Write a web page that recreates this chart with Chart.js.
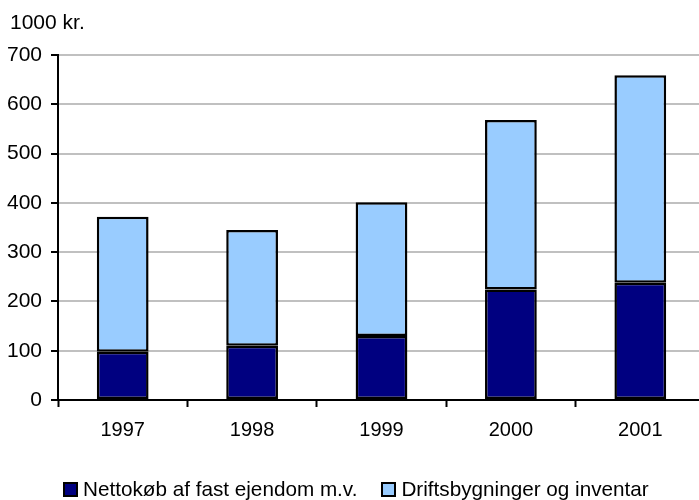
<!DOCTYPE html>
<html>
<head>
<meta charset="utf-8">
<script src="https://cdn.jsdelivr.net/npm/chart.js@4"></script>
<style>
  html, body { margin: 0; padding: 0; background: #fff; overflow: hidden; }
  #wrap { position: relative; width: 705px; height: 500px; }
  .txt { font-family: 'Liberation Sans', Arial, sans-serif; color: #000; white-space: nowrap; }
  #unit { position: absolute; left: 10px; top: 9px; font-size: 21px; line-height: 25px; }
  #legend {
    position: absolute; left: 63px; top: 477px; height: 24px;
    display: flex; align-items: center; font-size: 20.7px;
  }
  .item { display: flex; align-items: center; margin-right: 24px; }
  .box { width: 11px; height: 11px; border: 2px solid #000; margin-right: 5px; }
</style>
</head>
<body>
<div id="wrap">
  <canvas id="chart" width="705" height="500"></canvas>
  <div id="unit" class="txt">1000 kr.</div>
  <div id="legend" class="txt"></div>
</div>
<script>
const years = ["1997", "1998", "1999", "2000", "2001"];
const nettokob = [98, 110, 130, 224, 238];
const driftsbygninger = [274, 235, 271, 344, 421];
const yTicks = [0, 100, 200, 300, 400, 500, 600, 700];

const FONT = "'Liberation Sans', Arial, sans-serif";

const ctx = document.getElementById("chart").getContext("2d");
const chart = new Chart(ctx, {
  type: "bar",
  data: {
    labels: years,
    datasets: [
      {
        label: "Nettokøb af fast ejendom m.v.",
        data: nettokob,
        backgroundColor: "#000080",
        borderColor: "#000000",
        borderWidth: 2.5,
        borderSkipped: false,
      },
      {
        label: "Driftsbygninger og inventar",
        data: driftsbygninger,
        backgroundColor: "#99ccff",
        borderColor: "#000000",
        borderWidth: 2.5,
        borderSkipped: false,
      },
    ],
  },
  options: {
    responsive: false,
    animation: false,
    layout: { padding: { left: 0, right: 0, top: 55, bottom: 0 } },
    datasets: { bar: { barPercentage: 0.4, categoryPercentage: 1 } },
    plugins: {
      tooltip: { enabled: false },
      legend: { display: false },
      title: { display: false },
    },
    scales: {
      x: {
        stacked: true,
        grid: {
          offset: true,
          drawOnChartArea: false,
          drawTicks: true,
          tickLength: 7,
          tickWidth: 2,
          tickColor: "#000",
        },
        border: { color: "#000", width: 2 },
        ticks: { color: "#000", font: { family: FONT, size: 20 }, padding: 11 },
        afterFit: (scale) => { scale.height = 100; },
      },
      y: {
        stacked: true,
        min: 0,
        max: 700,
        afterBuildTicks: (scale) => {
          scale.ticks = yTicks.map((v) => ({ value: v }));
        },
        grid: {
          color: "#c0c0c0",
          lineWidth: 2,
          tickLength: 7,
          tickColor: "#000",
          tickWidth: 2,
        },
        border: { color: "#000", width: 2 },
        ticks: { color: "#000", font: { family: FONT, size: 21 }, padding: 9 },
        afterFit: (scale) => { scale.width = 58; },
      },
    },
  },
});

// legend drawn as html, from the chart's datasets
const legendDiv = document.getElementById("legend");
chart.data.datasets.forEach((ds) => {
  const item = document.createElement("div");
  item.className = "item";
  const box = document.createElement("span");
  box.className = "box";
  box.style.background = ds.backgroundColor;
  const txt = document.createElement("span");
  txt.textContent = ds.label;
  item.appendChild(box);
  item.appendChild(txt);
  legendDiv.appendChild(item);
});
</script>
</body>
</html>
